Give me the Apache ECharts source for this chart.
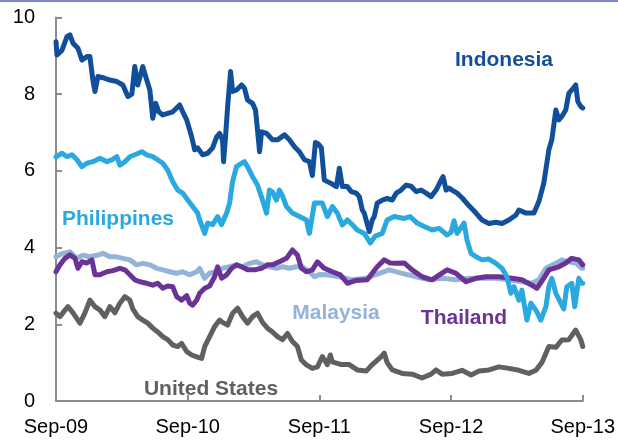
<!DOCTYPE html>
<html>
<head>
<meta charset="utf-8">
<script src="https://cdn.jsdelivr.net/npm/echarts@6/dist/echarts.min.js"></script>
<style>
html,body{margin:0;padding:0;background:#fff;}
#chart{width:618px;height:440px;}
</style>
</head>
<body>
<div id="chart"></div>
<script>
// x = months since Sep-2009, y = 10-year government bond yield (%)
const tickLabels = ["Sep-09", "Sep-10", "Sep-11", "Sep-12", "Sep-13"];
const seriesNames = ["Malaysia", "Thailand", "United States", "Philippines", "Indonesia"];

const indonesia = [[0.00,9.37],[0.09,9.02],[0.55,9.15],[1.00,9.50],[1.27,9.55],[1.55,9.33],[2.00,9.20],[2.36,8.89],[2.82,8.98],[3.09,8.98],[3.36,8.37],[3.55,8.07],[3.82,8.46],[4.27,8.43],[4.91,8.37],[5.55,8.33],[6.09,8.24],[6.55,7.94],[6.91,8.00],[7.18,8.72],[7.45,8.24],[7.91,8.72],[8.27,8.37],[8.55,8.11],[8.82,7.37],[9.09,7.76],[9.36,7.54],[9.73,7.46],[10.18,7.50],[10.64,7.54],[11.27,7.72],[11.55,7.54],[11.91,7.33],[12.36,6.89],[12.64,6.55],[12.91,6.60],[13.36,6.42],[13.82,6.46],[14.27,6.60],[14.64,6.89],[14.91,6.98],[15.18,6.80],[15.27,6.24],[15.45,6.89],[15.64,7.68],[15.91,8.59],[16.09,8.07],[16.45,8.11],[16.91,8.24],[17.18,8.15],[17.45,7.85],[17.91,7.76],[18.18,7.59],[18.36,7.07],[18.55,6.50],[18.73,7.02],[19.18,6.98],[19.73,6.81],[20.18,6.81],[20.82,6.94],[21.27,6.81],[21.73,6.63],[22.18,6.50],[22.64,6.29],[23.09,6.24],[23.36,5.88],[23.64,6.74],[23.91,6.70],[24.18,6.60],[24.45,5.76],[24.73,5.72],[25.09,5.67],[25.55,5.59],[25.82,6.07],[26.09,5.59],[26.55,5.59],[26.91,5.46],[27.36,5.42],[27.64,5.33],[27.91,4.98],[28.09,4.90],[28.27,4.85],[28.55,4.42],[28.82,4.72],[29.00,4.81],[29.27,5.16],[29.73,5.24],[30.18,5.28],[30.64,5.24],[31.00,5.42],[31.45,5.50],[31.91,5.63],[32.36,5.60],[32.82,5.46],[33.27,5.50],[33.73,5.42],[34.18,5.33],[34.64,5.50],[35.09,5.76],[35.27,5.85],[35.55,5.50],[35.82,5.55],[36.09,5.50],[36.55,5.42],[37.00,5.30],[37.64,5.09],[38.27,4.90],[38.82,4.72],[39.45,4.63],[40.09,4.66],[40.64,4.63],[41.27,4.72],[41.91,4.85],[42.18,4.98],[42.82,4.90],[43.55,4.90],[44.00,5.20],[44.45,5.68],[44.91,6.55],[45.18,6.81],[45.55,7.59],[45.82,7.33],[46.09,7.42],[46.45,7.59],[46.73,8.02],[47.00,8.11],[47.36,8.24],[47.55,7.81],[47.82,7.68],[48.00,7.64]];

const philippines = [[0.00,6.37],[0.55,6.46],[1.00,6.37],[1.45,6.42],[1.91,6.29],[2.36,6.11],[2.82,6.20],[3.36,6.24],[4.00,6.33],[4.64,6.24],[5.09,6.29],[5.55,6.37],[5.82,6.15],[6.27,6.24],[6.73,6.37],[7.18,6.42],[7.82,6.50],[8.27,6.42],[8.82,6.37],[9.27,6.29],[9.73,6.20],[10.18,6.02],[10.64,5.72],[11.09,5.50],[11.55,5.42],[12.00,5.24],[12.45,5.07],[12.91,4.90],[13.09,4.72],[13.55,4.37],[13.82,4.64],[14.27,4.60],[14.73,4.81],[15.09,4.60],[15.55,4.90],[15.82,5.16],[16.09,5.72],[16.45,6.11],[16.91,6.20],[17.18,6.24],[17.45,6.11],[17.91,5.85],[18.36,5.63],[18.82,5.24],[19.18,4.90],[19.45,5.50],[19.73,5.45],[20.09,5.24],[20.36,5.50],[20.64,5.35],[21.00,5.07],[21.55,4.90],[22.18,4.81],[22.82,4.72],[23.09,4.37],[23.55,5.16],[23.82,5.16],[24.27,5.16],[24.73,4.81],[25.18,5.07],[25.64,4.90],[26.09,4.59],[26.55,4.72],[27.00,4.60],[27.45,4.46],[28.09,4.37],[28.64,4.12],[29.09,4.30],[29.73,4.37],[30.18,4.72],[30.82,4.81],[31.73,4.76],[32.27,4.81],[32.91,4.64],[33.55,4.55],[34.27,4.46],[34.91,4.50],[35.64,4.33],[36.00,4.40],[36.27,4.70],[36.55,4.37],[37.18,4.64],[37.45,4.20],[37.82,3.85],[38.27,3.76],[38.82,3.68],[39.45,3.70],[40.09,3.59],[40.64,3.46],[41.09,3.24],[41.45,2.81],[41.73,2.98],[42.18,2.63],[42.45,2.89],[42.91,2.11],[43.27,2.55],[43.73,2.37],[44.18,2.11],[44.64,2.46],[44.91,2.98],[45.18,3.20],[45.55,2.81],[46.00,2.55],[46.27,2.40],[46.55,2.98],[47.00,3.07],[47.27,2.46],[47.64,3.20],[47.91,3.07],[48.00,3.07]];

const malaysia = [[0.00,3.76],[0.64,3.85],[1.27,3.89],[1.91,3.72],[2.45,3.80],[3.09,3.76],[3.73,3.80],[4.27,3.85],[4.91,3.76],[5.55,3.76],[6.09,3.72],[6.73,3.68],[7.36,3.55],[7.91,3.59],[8.55,3.55],[9.18,3.46],[9.73,3.42],[10.36,3.37],[11.00,3.33],[11.55,3.37],[12.18,3.29],[12.82,3.37],[13.09,3.46],[13.55,3.20],[14.00,3.33],[14.64,3.37],[15.18,3.46],[15.82,3.50],[16.45,3.55],[17.00,3.50],[17.64,3.59],[18.27,3.63],[18.82,3.55],[19.45,3.50],[20.09,3.46],[20.64,3.50],[21.27,3.46],[21.91,3.50],[22.45,3.50],[23.09,3.37],[23.55,3.24],[24.00,3.30],[24.64,3.29],[25.82,3.24],[27.00,3.16],[28.27,3.20],[29.45,3.33],[30.36,3.42],[31.55,3.33],[32.82,3.24],[34.00,3.16],[35.18,3.20],[36.45,3.16],[37.64,3.20],[38.82,3.20],[40.09,3.20],[41.27,3.16],[42.45,3.11],[43.36,3.07],[44.00,3.16],[44.64,3.46],[45.55,3.59],[46.09,3.68],[46.73,3.63],[47.36,3.60],[47.91,3.46],[48.00,3.46]];

const thailand = [[0.00,3.37],[0.36,3.55],[0.82,3.72],[1.27,3.81],[1.73,3.72],[2.00,3.46],[2.36,3.63],[2.82,3.60],[3.27,3.68],[3.55,3.29],[4.00,3.29],[4.64,3.37],[5.18,3.40],[5.82,3.46],[6.27,3.42],[6.73,3.29],[7.18,3.16],[7.64,3.11],[8.27,3.07],[8.82,3.02],[9.27,3.07],[9.73,2.94],[10.18,3.00],[10.64,2.98],[11.00,2.72],[11.45,2.63],[11.91,2.75],[12.18,2.55],[12.45,2.50],[12.82,2.63],[13.09,2.81],[13.55,2.94],[14.00,3.00],[14.45,3.24],[14.73,3.50],[15.09,3.20],[15.55,3.29],[16.00,3.46],[16.45,3.55],[16.91,3.50],[17.45,3.42],[18.09,3.42],[18.73,3.46],[19.27,3.55],[19.73,3.55],[20.36,3.63],[21.00,3.72],[21.55,3.94],[22.00,3.81],[22.36,3.46],[22.82,3.37],[23.36,3.42],[23.82,3.63],[24.45,3.46],[25.18,3.37],[25.91,3.29],[26.55,3.07],[27.27,3.14],[28.36,3.16],[29.27,3.50],[29.91,3.68],[30.45,3.60],[31.00,3.59],[31.73,3.60],[32.45,3.42],[33.36,3.24],[34.27,3.16],[35.00,3.30],[35.64,3.42],[36.45,3.33],[37.36,3.11],[38.27,3.20],[39.18,3.24],[40.36,3.24],[41.55,3.20],[42.45,3.16],[43.36,3.02],[43.82,2.94],[44.45,3.20],[44.91,3.42],[45.82,3.50],[46.45,3.60],[47.00,3.72],[47.64,3.68],[48.00,3.55]];

const unitedStates = [[0.00,2.29],[0.36,2.20],[0.82,2.37],[1.09,2.46],[1.55,2.30],[2.18,2.03],[2.64,2.30],[3.09,2.63],[3.55,2.46],[4.00,2.37],[4.45,2.20],[4.91,2.46],[5.36,2.30],[5.82,2.55],[6.27,2.72],[6.73,2.63],[7.00,2.40],[7.45,2.20],[7.91,2.11],[8.36,2.03],[8.82,1.90],[9.27,1.80],[9.73,1.68],[10.18,1.60],[10.64,1.46],[11.09,1.42],[11.45,1.50],[11.91,1.29],[12.36,1.20],[12.82,1.15],[13.27,1.11],[13.55,1.42],[14.00,1.68],[14.45,1.94],[14.91,2.11],[15.18,2.05],[15.64,1.98],[16.09,2.29],[16.55,2.42],[17.00,2.20],[17.45,2.03],[17.91,2.20],[18.36,2.29],[18.82,2.05],[19.27,1.90],[19.73,1.80],[20.18,1.68],[20.64,1.60],[21.09,1.76],[21.55,1.55],[22.00,1.42],[22.36,1.07],[22.82,0.94],[23.36,0.85],[23.82,0.89],[24.27,1.16],[24.73,0.95],[25.00,1.20],[25.18,1.02],[26.00,0.95],[26.73,0.95],[27.45,0.81],[28.27,0.78],[28.82,0.95],[29.64,1.16],[29.91,1.25],[30.18,1.00],[30.64,0.81],[31.55,0.72],[32.45,0.70],[33.36,0.60],[34.18,0.70],[34.64,0.81],[35.18,0.70],[36.09,0.72],[37.00,0.80],[37.82,0.68],[38.55,0.78],[39.45,0.81],[40.36,0.89],[41.27,0.85],[42.18,0.80],[43.09,0.72],[43.73,0.80],[44.27,1.00],[44.91,1.42],[45.55,1.40],[46.09,1.59],[46.73,1.60],[47.36,1.85],[47.82,1.60],[48.00,1.42]];

const seriesData = [malaysia, thailand, unitedStates, philippines, indonesia];
const colors = ["#93b3d9", "#6b3394", "#606060", "#2aa8e0", "#124f9b"];
const labelPos = [[336, 313], [464, 318], [211, 389], [118, 219], [504, 60]];

const chart = echarts.init(document.getElementById('chart'), null, {renderer: 'canvas'});
const axisColor = '#8c8c8c';
const option = {
  animation: false,
  grid: {left: 56, right: 34, top: 17.5, bottom: 39, containLabel: false},
  xAxis: {
    type: 'value', min: 0, max: 48, interval: 12,
    axisLine: {show: true, lineStyle: {color: axisColor, width: 2}},
    axisTick: {show: true, inside: true, length: 6, lineStyle: {color: axisColor, width: 2}},
    splitLine: {show: false},
    axisLabel: {
      margin: 16, color: '#000', fontSize: 20, fontFamily: 'Liberation Sans, Arial, sans-serif',
      formatter: v => tickLabels[Math.round(v / 12)]
    }
  },
  yAxis: {
    type: 'value', min: 0, max: 10, interval: 2,
    axisLine: {show: true, lineStyle: {color: axisColor, width: 2}},
    axisTick: {show: true, inside: true, length: 6, lineStyle: {color: axisColor, width: 2}},
    splitLine: {show: false},
    axisLabel: {margin: 21, color: '#000', fontSize: 20, fontFamily: 'Liberation Sans, Arial, sans-serif'}
  },
  series: seriesNames.map((name, i) => ({
    name: name, type: 'line', data: seriesData[i], showSymbol: false, symbol: 'none',
    lineStyle: {color: colors[i], width: 5, cap: 'round', join: 'round'},
    z: 2 + i
  })),
  graphic: [
    {type: 'rect', left: 0, top: 0, shape: {width: 618, height: 2}, style: {fill: '#7f86c6'}}
  ].concat(seriesNames.map((name, i) => ({
    type: 'text', x: labelPos[i][0], y: labelPos[i][1], z: 100,
    style: {text: name, fill: colors[i], font: 'bold 21px "Liberation Sans", Arial, sans-serif',
      textAlign: 'center', textVerticalAlign: 'middle'}
  })))
};
chart.setOption(option);
</script>
</body>
</html>
